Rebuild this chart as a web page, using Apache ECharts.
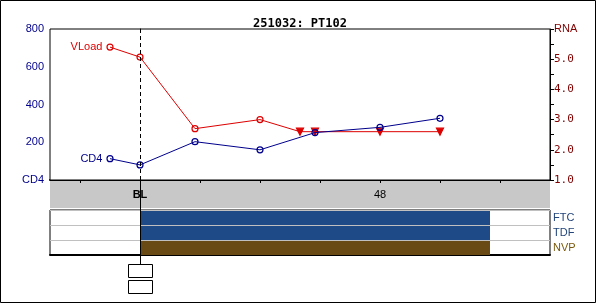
<!DOCTYPE html>
<html>
<head>
<meta charset="utf-8">
<script src="https://cdn.jsdelivr.net/npm/echarts@6/dist/echarts.min.js"></script>
<style>html,body{margin:0;padding:0;background:#fff;}#c{width:600px;height:304px;}</style>
</head>
<body>
<div id="c"></div>
<script>
// ---- data ----
const titleText = '251032: PT102';
const vlWeeks = [-6, 0, 11, 24, 32, 35, 48, 60];
const vlRna = [5.4, 5.07, 2.7, 3.0, 2.6, 2.6, 2.6, 2.6];
const vlBelowLimit = [false, false, false, false, true, true, true, true];
const cd4Weeks = [-6, 0, 11, 24, 35, 48, 60];
const cd4Values = [113, 80, 203, 160, 251, 279, 327];
const xTickWeeks = [-12, 0, 12, 24, 36, 48, 60, 72];
const xLabelWeeks = [0, 48];
const drugs = ['FTC', 'TDF', 'NVP'];
const drugStart = [0, 0, 0];
const drugEnd = [70, 70, 70];
const baselineWeek = 0;

// ---- styles ----
const navy = '#00008c';
const red = '#dd0000';
const darkRed = '#800000';
const drugFill = {FTC: '#1f4a88', TDF: '#1f4a88', NVP: '#6a4a14'};
const drugLabelColor = {FTC: '#23457a', TDF: '#23457a', NVP: '#7a5a10'};

const chart = echarts.init(document.getElementById('c'), null, {renderer: 'canvas'});

const vlData = vlWeeks.map((w, i) => {
  const item = {value: [w, vlRna[i]]};
  if (vlBelowLimit[i]) {
    item.symbol = 'triangle';
    item.symbolRotate = 180;
    item.symbolSize = 7;
    item.itemStyle = {color: red, borderColor: red};
  }
  if (i === 0) item.label = {show: true, formatter: 'VLoad', position: 'left', distance: 4, color: red, fontSize: 11, fontFamily: 'Liberation Sans'};
  return item;
});
const cd4Data = cd4Weeks.map((w, i) => {
  const item = {value: [w, cd4Values[i]]};
  if (i === 0) item.label = {show: true, formatter: 'CD4', position: 'left', distance: 4, color: navy, fontSize: 11, fontFamily: 'Liberation Sans'};
  return item;
});

const option = {
  animation: false,
  backgroundColor: '#fff',
  title: {
    text: titleText, left: 'center', top: 13,
    textStyle: {fontFamily: 'DejaVu Sans Mono', fontWeight: 'bold', fontSize: 12, color: '#000'}
  },
  grid: [
    {left: 50, top: 29, width: 500, height: 151, show: true, borderColor: '#000', borderWidth: 1, backgroundColor: '#fff', z: 1},
    {left: 50, top: 210, width: 500, height: 45, show: true, borderColor: '#000', borderWidth: 1, backgroundColor: '#fff'},
    {left: 50, top: 181, width: 500, height: 27, show: true, borderWidth: 0, backgroundColor: '#c8c8c8', z: 0}
  ],
  xAxis: [
    {
      gridIndex: 0, type: 'value', min: -18, max: 82,
      axisLine: {show: true, lineStyle: {color: '#000', width: 2}},
      axisTick: {show: true, customValues: xTickWeeks, length: 3, lineStyle: {color: '#000'}},
      axisLabel: {
        show: true, customValues: xLabelWeeks, margin: 9,
        formatter: v => v === 0 ? '{b|BL}' : String(v),
        color: '#000', fontSize: 11, fontFamily: 'Liberation Sans',
        rich: {b: {fontWeight: 'bold', fontSize: 11, fontFamily: 'Liberation Sans', color: '#000'}}
      },
      splitLine: {show: false}
    },
    {
      gridIndex: 1, type: 'value', min: -18, max: 82,
      axisLine: {show: true, lineStyle: {color: '#000', width: 2}},
      axisTick: {show: false}, axisLabel: {show: false}, splitLine: {show: false}
    },
    {gridIndex: 2, type: 'value', min: -18, max: 82, show: false}
  ],
  yAxis: [
    {
      gridIndex: 0, type: 'value', min: 0, max: 800, interval: 200, position: 'left',
      axisLine: {show: true, lineStyle: {color: '#000'}},
      axisTick: {show: true, length: 3, lineStyle: {color: '#000'}},
      minorTick: {show: true, splitNumber: 2, length: 3, lineStyle: {color: '#000'}},
      axisLabel: {margin: 6, color: navy, fontSize: 11, fontFamily: 'Liberation Sans', formatter: v => v === 0 ? 'CD4' : String(v)},
      splitLine: {show: false}
    },
    {
      gridIndex: 0, type: 'value', min: 1, max: 6, interval: 1, position: 'right',
      axisLine: {show: true, lineStyle: {color: '#000'}},
      axisTick: {show: true, length: 4, lineStyle: {color: '#000'}},
      minorTick: {show: true, splitNumber: 2, length: 4, lineStyle: {color: '#000'}},
      axisLabel: {
        margin: 4, color: darkRed, fontSize: 11, fontFamily: 'DejaVu Sans Mono',
        formatter: v => v === 6 ? '{r|RNA}' : v.toFixed(1),
        rich: {r: {fontFamily: 'Liberation Sans', fontSize: 11, color: darkRed}}
      },
      splitLine: {show: false}
    },
    {
      gridIndex: 1, type: 'category', data: drugs, inverse: true, position: 'right',
      axisLine: {show: false}, axisTick: {show: false},
      axisLabel: {margin: 3, fontSize: 11, fontFamily: 'Liberation Sans', color: (v) => drugLabelColor[v] || '#000'},
      splitLine: {show: true, lineStyle: {color: '#c0c0c0', width: 1}}
    },
    {gridIndex: 2, type: 'value', show: false}
  ],
  series: [
    {
      type: 'line', xAxisIndex: 0, yAxisIndex: 1, data: vlData,
      symbol: 'circle', symbolSize: 6,
      lineStyle: {color: red, width: 1},
      itemStyle: {color: 'rgba(255,255,255,0)', borderColor: red, borderWidth: 1.2},
      z: 3,
      markLine: {
        silent: true, symbol: 'none', label: {show: false},
        lineStyle: {color: '#000', type: [4, 3], width: 1},
        data: [{xAxis: baselineWeek}]
      }
    },
    {
      type: 'line', xAxisIndex: 0, yAxisIndex: 0, data: cd4Data,
      symbol: 'circle', symbolSize: 6,
      lineStyle: {color: navy, width: 1},
      itemStyle: {color: 'rgba(255,255,255,0)', borderColor: navy, borderWidth: 1.2},
      z: 4
    },
    {
      type: 'custom', xAxisIndex: 1, yAxisIndex: 2,
      data: drugs.map((d, i) => [drugStart[i], drugEnd[i], i]),
      renderItem: (params, api) => {
        const idx = api.value(2);
        const s = api.coord([api.value(0), idx]);
        const e = api.coord([api.value(1), idx]);
        const h = api.size([0, 1])[1];
        return {
          type: 'rect',
          shape: {x: s[0], y: s[1] - h / 2 + 1, width: e[0] - s[0], height: h - 1},
          style: {fill: drugFill[drugs[idx]]}
        };
      }
    }
  ]
};
chart.setOption(option);

// decorations tied to baseline: solid line below the plot and two small boxes
const bx = chart.convertToPixel({xAxisIndex: 0}, baselineWeek);
const xb = Math.round(bx) + 0.5;
chart.setOption({
  graphic: [
    {type: 'rect', shape: {x: 0.5, y: 0.5, width: 595, height: 302}, style: {fill: null, stroke: '#000', lineWidth: 1}, z: 100, silent: true},
    {type: 'line', shape: {x1: xb, y1: 180, x2: xb, y2: 264}, style: {stroke: '#000', lineWidth: 1}, z: 100, silent: true},
    {type: 'rect', shape: {x: xb - 12, y: 264.5, width: 24, height: 13}, style: {fill: '#fff', stroke: '#000', lineWidth: 1}, z: 100, silent: true},
    {type: 'rect', shape: {x: xb - 12, y: 280.5, width: 24, height: 13}, style: {fill: '#fff', stroke: '#000', lineWidth: 1}, z: 100, silent: true}
  ]
});
</script>
</body>
</html>
